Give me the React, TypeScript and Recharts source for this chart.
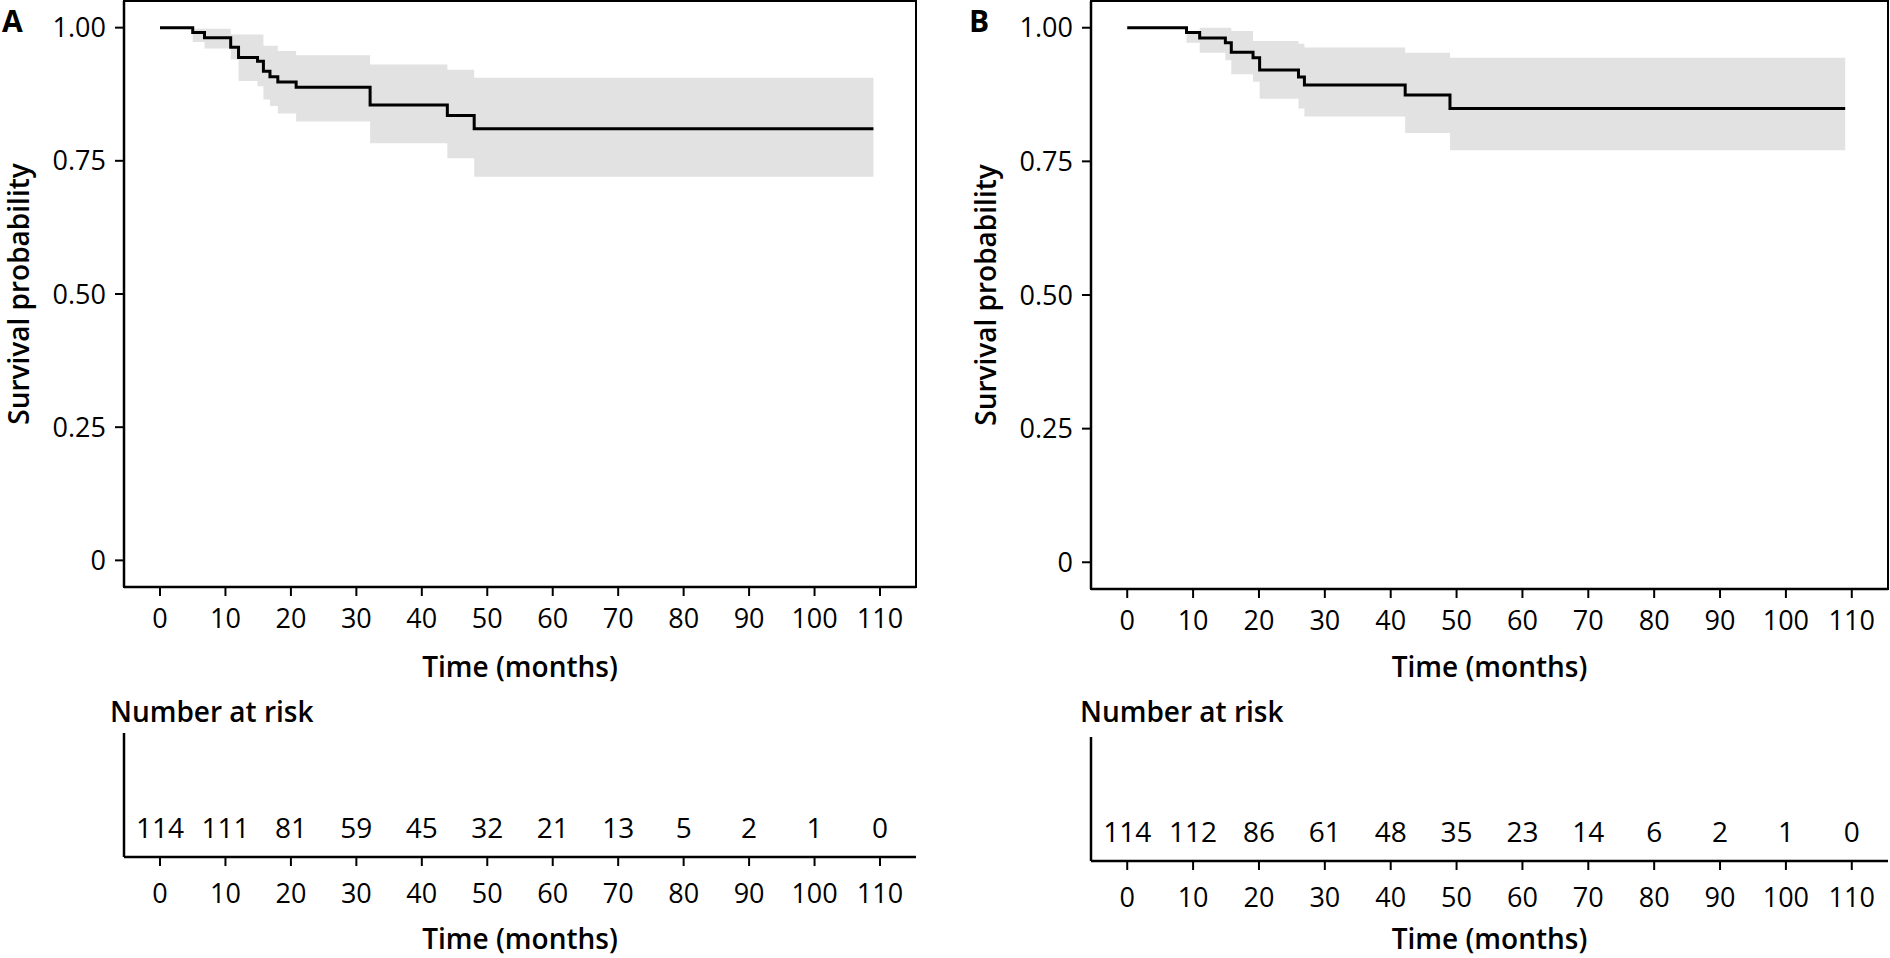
import React from "react";
import { Area, ComposedChart, Line, ReferenceArea, Scatter, XAxis, YAxis } from "recharts";

const FONT = '"Open Sans", "Noto Sans", sans-serif';

const timeTicks = [0, 10, 20, 30, 40, 50, 60, 70, 80, 90, 100, 110];
const survTicks = [0, 0.25, 0.5, 0.75, 1];

// panel A: KM steps with 95% CI
const timesA = [0, 5.0, 6.8, 10.8, 12.0, 14.9, 15.8, 16.8, 18.0, 20.8, 32.1, 43.9, 48.0, 109];
const survA = [1, 0.991, 0.981, 0.963, 0.944, 0.937, 0.918, 0.908, 0.898, 0.888, 0.855, 0.835, 0.81, 0.81];
const lowerA = [1, 0.973, 0.961, 0.94, 0.9, 0.89, 0.865, 0.853, 0.839, 0.824, 0.783, 0.755, 0.72, 0.72];
const upperA = [1, 0.998, 0.998, 0.987, 0.987, 0.987, 0.966, 0.966, 0.956, 0.948, 0.931, 0.921, 0.906, 0.906];

// panel B
const timesB = [0, 9.0, 11.0, 14.9, 15.8, 19.1, 20.1, 26.0, 26.9, 42.2, 49.0, 109];
const survB = [1, 0.991, 0.981, 0.972, 0.954, 0.944, 0.921, 0.908, 0.893, 0.874, 0.849, 0.849];
const lowerB = [1, 0.972, 0.953, 0.939, 0.913, 0.899, 0.867, 0.849, 0.834, 0.803, 0.771, 0.771];
const upperB = [1, 0.991, 1, 1, 0.994, 0.975, 0.975, 0.97, 0.963, 0.953, 0.944, 0.944];

// number at risk
const riskTimes = [0, 10, 20, 30, 40, 50, 60, 70, 80, 90, 100, 110];
const riskA = [114, 111, 81, 59, 45, 32, 21, 13, 5, 2, 1, 0];
const riskB = [114, 112, 86, 61, 48, 35, 23, 14, 6, 2, 1, 0];

const X_DOMAIN = [-5.5, 115.5];
const Y_DOMAIN = [-0.05, 1.05];
const RISK_ROW = 0.24;

const tickStyle = { fill: "#000", fontSize: 27, fontFamily: FONT };
const axisStroke = { stroke: "#000", strokeWidth: 2.5 };
const tickStroke = { stroke: "#000", strokeWidth: 2 };

// y axis title plus the panel letter in the corner
function yTitle(letter: string) {
  return (props: any) => {
    const { x, y, height } = props.viewBox;
    const cx = x + 18;
    const cy = y + height / 2;
    return (
      <g>
        <text x={x + 2} y={32} fontFamily={FONT} fontSize={30} fontWeight={700} fill="#000">
          {letter}
        </text>
        <g transform={`translate(${cx} ${cy}) rotate(-90)`}>
          <text
            x={0}
            y={0}
            textAnchor="middle"
            dominantBaseline="central"
            fontFamily={FONT}
            fontSize={28}
            fontWeight={600}
            fill="#000"
          >
            Survival probability
          </text>
        </g>
      </g>
    );
  };
}

function xTitle(offset: number) {
  return (props: any) => {
    const { x, y, width, height } = props.viewBox;
    return (
      <text
        x={x + width / 2}
        y={y + height - offset}
        textAnchor="middle"
        fontFamily={FONT}
        fontSize={28}
        fontWeight={600}
        fill="#000"
      >
        Time (months)
      </text>
    );
  };
}

function KMPanel({ letter, times, surv, lower, upper, width, rightMargin, axisH }: any) {
  const data = times.map((t: number, i: number) => ({
    t,
    surv: surv[i],
    band: [lower[i], upper[i]],
  }));
  return (
    <ComposedChart
      width={width}
      height={700}
      data={data}
      margin={{ top: 1, right: rightMargin, bottom: 0, left: 0 }}
    >
      <XAxis
        type="number"
        dataKey="t"
        domain={X_DOMAIN}
        ticks={timeTicks}
        interval={0}
        allowDataOverflow
        height={axisH}
        tickSize={9}
        tickMargin={13}
        tick={tickStyle}
        axisLine={axisStroke}
        tickLine={tickStroke}
        label={{ content: xTitle(23) }}
      />
      <YAxis
        type="number"
        domain={Y_DOMAIN}
        ticks={survTicks}
        interval={0}
        allowDataOverflow
        width={124}
        tickSize={9}
        tickMargin={9}
        tick={tickStyle}
        axisLine={axisStroke}
        tickLine={tickStroke}
        tickFormatter={(v: number) => (v === 0 ? "0" : v.toFixed(2))}
        label={{ content: yTitle(letter) }}
      />
      <ReferenceArea
        x1={X_DOMAIN[0]}
        x2={X_DOMAIN[1]}
        y1={Y_DOMAIN[0]}
        y2={Y_DOMAIN[1]}
        fill="none"
        stroke="#000"
        strokeWidth={2}
      />
      <Area
        type="stepAfter"
        dataKey="band"
        stroke="none"
        fill="#e2e2e2"
        fillOpacity={1}
        isAnimationActive={false}
      />
      <Line
        type="stepAfter"
        dataKey="surv"
        stroke="#000"
        strokeWidth={3}
        dot={false}
        isAnimationActive={false}
      />
    </ComposedChart>
  );
}

function RiskNumber(props: any) {
  return (
    <text
      x={props.cx}
      y={props.cy}
      textAnchor="middle"
      dominantBaseline="central"
      fontFamily={FONT}
      fontSize={28}
      fill="#000"
    >
      {props.payload.n}
    </text>
  );
}

function RiskTable({ counts, width, rightMargin, top, axisH }: any) {
  const data = riskTimes.map((t, i) => ({ t, n: counts[i], row: RISK_ROW }));
  return (
    <ComposedChart
      width={width}
      height={258}
      data={data}
      margin={{ top, right: rightMargin, bottom: 0, left: 0 }}
    >
      <XAxis
        type="number"
        dataKey="t"
        domain={X_DOMAIN}
        ticks={timeTicks}
        interval={0}
        allowDataOverflow
        height={axisH}
        tickSize={9}
        tickMargin={18}
        tick={tickStyle}
        axisLine={axisStroke}
        tickLine={tickStroke}
        label={{ content: xTitle(9) }}
      />
      <YAxis
        type="number"
        domain={[0, 1]}
        ticks={[0.49]}
        width={124}
        tickSize={9}
        tick={false}
        axisLine={axisStroke}
        tickLine={tickStroke}
      />
      <Scatter dataKey="row" shape={RiskNumber} isAnimationActive={false} />
    </ComposedChart>
  );
}

const riskTitle: React.CSSProperties = {
  position: "absolute",
  fontFamily: FONT,
  fontWeight: 600,
  fontSize: 28,
  lineHeight: "28px",
  color: "#000",
  whiteSpace: "nowrap",
};

export default function App() {
  return (
    <div
      style={{
        position: "absolute",
        left: 0,
        top: 0,
        width: 1890,
        height: 958,
        background: "#fff",
        overflow: "hidden",
      }}
    >
      <div style={{ position: "absolute", left: 0, top: 0 }}>
        <KMPanel letter="A" times={timesA} surv={survA} lower={lowerA} upper={upperA} width={930} rightMargin={14} axisH={113} />
      </div>
      <div style={{ position: "absolute", left: 0, top: 700 }}>
        <RiskTable counts={riskA} width={930} rightMargin={14} top={33} axisH={101} />
      </div>
      <div style={{ position: "absolute", left: 967, top: 0 }}>
        <KMPanel letter="B" times={timesB} surv={survB} lower={lowerB} upper={upperB} width={923} rightMargin={2} axisH={111} />
      </div>
      <div style={{ position: "absolute", left: 967, top: 700 }}>
        <RiskTable counts={riskB} width={923} rightMargin={2} top={37} axisH={97} />
      </div>
      <div style={{ ...riskTitle, left: 110, top: 697 }}>Number at risk</div>
      <div style={{ ...riskTitle, left: 1080, top: 697 }}>Number at risk</div>
    </div>
  );
}
